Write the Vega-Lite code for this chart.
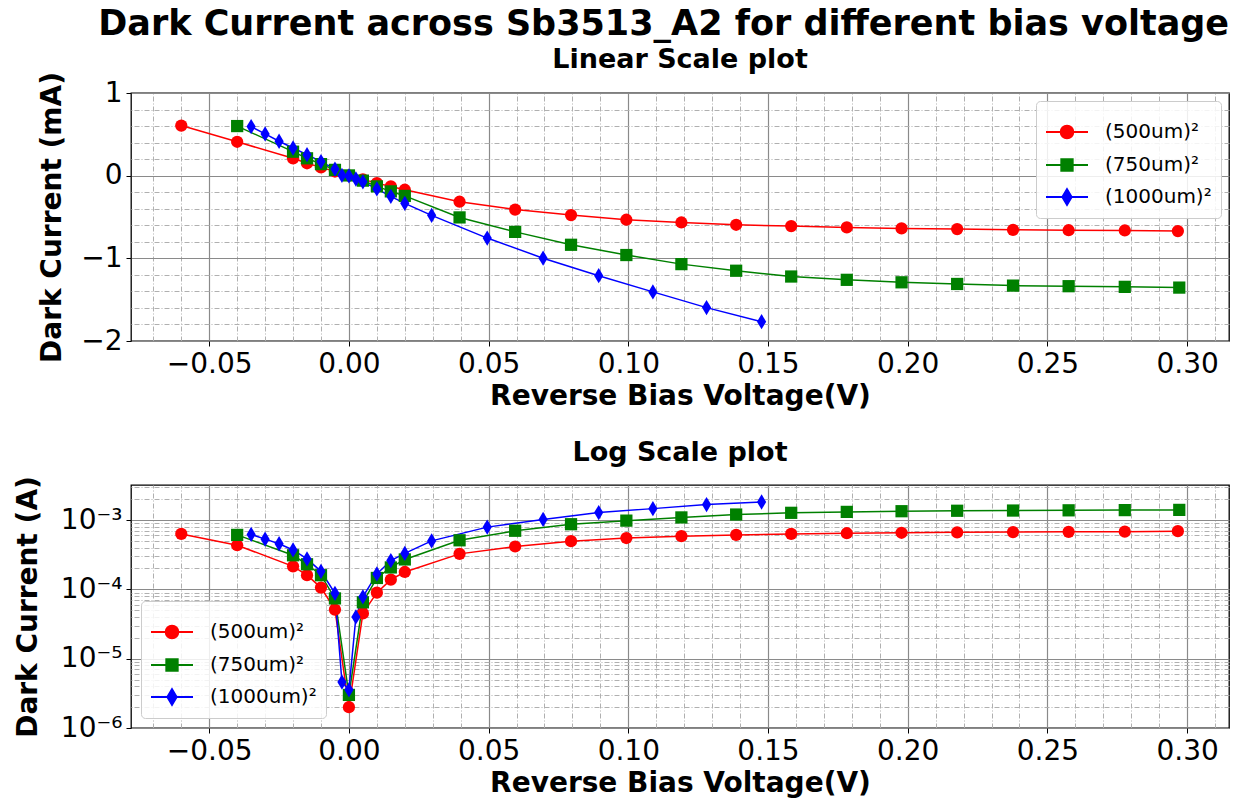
{
  "$schema": "https://vega.github.io/schema/vega-lite/v6.json",
  "padding": {"left": 13, "right": 14, "top": 6, "bottom": 2},
  "title": {"text": "Dark Current across Sb3513_A2 for different bias voltage", "fontSize": 35, "fontWeight": "bold", "font": "DejaVu Sans", "anchor": "middle", "color": "#000000", "offset": 3, "dx": 42},
  "config": {
    "font": "DejaVu Sans",
    "view": {"stroke": "#000000", "strokeWidth": 1.3},
    "axis": {"labelFontSize": 28, "labelColor": "#000000", "titleFontSize": 28, "titleFontWeight": "bold", "titleColor": "#000000", "tickColor": "#000000", "tickSize": 5, "labelPadding": 4, "domain": false, "gridColor": "#8a8a8a", "gridWidth": 1.2, "labelFont": "DejaVu Sans", "titleFont": "DejaVu Sans"},
    "title": {"fontSize": 27, "fontWeight": "bold", "color": "#000000", "font": "DejaVu Sans"},
    "legend": {"labelFontSize": 20, "labelFont": "DejaVu Sans", "labelColor": "#000000", "symbolSize": 1764, "symbolStrokeWidth": 2, "labelOffset": 16, "rowPadding": 0, "padding": 9, "fillColor": "rgba(255,255,255,0.85)", "strokeColor": "#cccccc", "cornerRadius": 4}
  },
  "spacing": 26,
  "resolve": {"scale": {"color": "independent", "shape": "independent", "stroke": "independent"}},
  "datasets": {
    "d": [
      {"s": "500", "v": -0.06, "mA": 0.606, "A": 6.3e-4},
      {"s": "500", "v": -0.04, "mA": 0.41, "A": 4.33e-4},
      {"s": "500", "v": -0.02, "mA": 0.21, "A": 2.15e-4},
      {"s": "500", "v": -0.015, "mA": 0.15, "A": 1.6e-4},
      {"s": "500", "v": -0.01, "mA": 0.10, "A": 1.06e-4},
      {"s": "500", "v": -0.005, "mA": 0.05, "A": 5.1e-5},
      {"s": "500", "v": 0.0, "mA": 0.002, "A": 2.0e-6},
      {"s": "500", "v": 0.005, "mA": -0.045, "A": 4.5e-5},
      {"s": "500", "v": 0.01, "mA": -0.09, "A": 8.95e-5},
      {"s": "500", "v": 0.015, "mA": -0.13, "A": 1.38e-4},
      {"s": "500", "v": 0.02, "mA": -0.17, "A": 1.78e-4},
      {"s": "500", "v": 0.0396, "mA": -0.315, "A": 3.25e-4},
      {"s": "500", "v": 0.0595, "mA": -0.41, "A": 4.15e-4},
      {"s": "500", "v": 0.0795, "mA": -0.477, "A": 4.95e-4},
      {"s": "500", "v": 0.0993, "mA": -0.533, "A": 5.5e-4},
      {"s": "500", "v": 0.119, "mA": -0.566, "A": 5.85e-4},
      {"s": "500", "v": 0.1386, "mA": -0.594, "A": 6.1e-4},
      {"s": "500", "v": 0.1583, "mA": -0.61, "A": 6.3e-4},
      {"s": "500", "v": 0.1782, "mA": -0.626, "A": 6.45e-4},
      {"s": "500", "v": 0.1978, "mA": -0.638, "A": 6.55e-4},
      {"s": "500", "v": 0.2177, "mA": -0.646, "A": 6.65e-4},
      {"s": "500", "v": 0.2377, "mA": -0.655, "A": 6.7e-4},
      {"s": "500", "v": 0.2576, "mA": -0.66, "A": 6.75e-4},
      {"s": "500", "v": 0.2777, "mA": -0.663, "A": 6.8e-4},
      {"s": "500", "v": 0.2967, "mA": -0.67, "A": 6.9e-4},
      {"s": "750", "v": -0.04, "mA": 0.60, "A": 6.1e-4},
      {"s": "750", "v": -0.02, "mA": 0.29, "A": 3.1e-4},
      {"s": "750", "v": -0.015, "mA": 0.21, "A": 2.3e-4},
      {"s": "750", "v": -0.01, "mA": 0.14, "A": 1.6e-4},
      {"s": "750", "v": -0.005, "mA": 0.07, "A": 7.4e-5},
      {"s": "750", "v": 0.0, "mA": 0.003, "A": 3.0e-6},
      {"s": "750", "v": 0.005, "mA": -0.06, "A": 6.5e-5},
      {"s": "750", "v": 0.01, "mA": -0.13, "A": 1.46e-4},
      {"s": "750", "v": 0.015, "mA": -0.19, "A": 2.07e-4},
      {"s": "750", "v": 0.02, "mA": -0.245, "A": 2.7e-4},
      {"s": "750", "v": 0.0396, "mA": -0.505, "A": 5.1e-4},
      {"s": "750", "v": 0.0595, "mA": -0.68, "A": 7.0e-4},
      {"s": "750", "v": 0.0795, "mA": -0.836, "A": 8.7e-4},
      {"s": "750", "v": 0.0993, "mA": -0.96, "A": 9.8e-4},
      {"s": "750", "v": 0.119, "mA": -1.07, "A": 1.09e-3},
      {"s": "750", "v": 0.1386, "mA": -1.15, "A": 1.2e-3},
      {"s": "750", "v": 0.1583, "mA": -1.22, "A": 1.27e-3},
      {"s": "750", "v": 0.1782, "mA": -1.26, "A": 1.31e-3},
      {"s": "750", "v": 0.1978, "mA": -1.29, "A": 1.34e-3},
      {"s": "750", "v": 0.2177, "mA": -1.31, "A": 1.36e-3},
      {"s": "750", "v": 0.2377, "mA": -1.33, "A": 1.37e-3},
      {"s": "750", "v": 0.2576, "mA": -1.337, "A": 1.38e-3},
      {"s": "750", "v": 0.2777, "mA": -1.345, "A": 1.39e-3},
      {"s": "750", "v": 0.2972, "mA": -1.354, "A": 1.4e-3},
      {"s": "1000", "v": -0.035, "mA": 0.594, "A": 6.2e-4},
      {"s": "1000", "v": -0.03, "mA": 0.505, "A": 5.3e-4},
      {"s": "1000", "v": -0.025, "mA": 0.416, "A": 4.55e-4},
      {"s": "1000", "v": -0.02, "mA": 0.335, "A": 3.7e-4},
      {"s": "1000", "v": -0.015, "mA": 0.254, "A": 2.75e-4},
      {"s": "1000", "v": -0.01, "mA": 0.17, "A": 1.82e-4},
      {"s": "1000", "v": -0.005, "mA": 0.08, "A": 8.75e-5},
      {"s": "1000", "v": -0.0025, "mA": 0.004, "A": 4.6e-6},
      {"s": "1000", "v": 0.0, "mA": -0.003, "A": 3.55e-6},
      {"s": "1000", "v": 0.0025, "mA": -0.04, "A": 4.0e-5},
      {"s": "1000", "v": 0.005, "mA": -0.075, "A": 7.8e-5},
      {"s": "1000", "v": 0.01, "mA": -0.16, "A": 1.67e-4},
      {"s": "1000", "v": 0.015, "mA": -0.25, "A": 2.6e-4},
      {"s": "1000", "v": 0.02, "mA": -0.335, "A": 3.3e-4},
      {"s": "1000", "v": 0.0296, "mA": -0.48, "A": 5.0e-4},
      {"s": "1000", "v": 0.0495, "mA": -0.755, "A": 7.9e-4},
      {"s": "1000", "v": 0.0695, "mA": -0.998, "A": 1.02e-3},
      {"s": "1000", "v": 0.0894, "mA": -1.21, "A": 1.28e-3},
      {"s": "1000", "v": 0.1088, "mA": -1.406, "A": 1.46e-3},
      {"s": "1000", "v": 0.128, "mA": -1.596, "A": 1.67e-3},
      {"s": "1000", "v": 0.1477, "mA": -1.766, "A": 1.82e-3}
    ]
  },
  "vconcat": [
    {
      "width": 1098,
      "height": 248,
      "title": {"text": "Linear Scale plot", "frame": "group", "anchor": "middle", "offset": -2},
      "data": {"name": "d"},
      "layer": [
        {
          "mark": {"type": "line", "strokeWidth": 1.5},
          "encoding": {
            "x": {"field": "v", "type": "quantitative", "scale": {"domain": [-0.078, 0.315], "nice": false, "zero": false},
              "axis": {"orient": "top", "values": [-0.07,-0.06,-0.04,-0.03,-0.02,-0.01,0.01,0.02,0.03,0.04,0.06,0.07,0.08,0.09,0.11,0.12,0.13,0.14,0.16,0.17,0.18,0.19,0.21,0.22,0.23,0.24,0.26,0.27,0.28,0.29,0.31], "grid": true, "gridDash": [5,2,1,2], "gridColor": "#b0b0b0", "gridWidth": 1, "labels": false, "ticks": false, "domain": false, "title": null}},
            "y": {"field": "mA", "type": "quantitative", "scale": {"domain": [-2, 1], "nice": false, "zero": false},
              "axis": {"orient": "right", "values": [-1.8,-1.6,-1.4,-1.2,-0.8,-0.6,-0.4,-0.2,0.2,0.4,0.6,0.8], "grid": true, "gridDash": [5,2,1,2], "gridColor": "#b0b0b0", "gridWidth": 1, "labels": false, "ticks": false, "domain": false, "title": null}},
            "stroke": {"field": "s", "type": "nominal", "scale": {"domain": ["1000","750","500"], "range": ["#0000ff","#008000","#ff0000"]}, "legend": null}
          }
        },
        {
          "mark": {"type": "point", "filled": true, "opacity": 1, "size": 150},
          "encoding": {
            "x": {"field": "v", "type": "quantitative",
              "axis": {"orient": "bottom", "values": [-0.05,0,0.05,0.1,0.15,0.2,0.25,0.3], "format": ".2f", "grid": true, "title": "Reverse Bias Voltage(V)", "titlePadding": 4}},
            "y": {"field": "mA", "type": "quantitative",
              "axis": {"orient": "left", "values": [-2,-1,0,1], "format": "d", "grid": true, "title": "Dark Current (mA)", "titlePadding": 14}},
            "color": {"field": "s", "type": "nominal", "scale": {"domain": ["500","750","1000"], "range": ["#ff0000","#008000","#0000ff"]},
              "legend": {"orient": "top-right", "offset": 8, "title": null, "labelExpr": "'(' + datum.label + 'um)²'",
                "symbolType": {"expr": "datum.value == '500' ? 'M-1,0L1,0M0.3,0A0.3,0.3,0,1,1,-0.3,0A0.3,0.3,0,1,1,0.3,0Z' : datum.value == '750' ? 'M-1,0L1,0M-0.27,-0.27L0.27,-0.27L0.27,0.27L-0.27,0.27Z' : 'M-1,0L1,0M0,-0.37L0.22,0L0,0.37L-0.22,0Z'"},
                "symbolStrokeColor": {"expr": "datum.value == '500' ? '#ff0000' : datum.value == '750' ? '#008000' : '#0000ff'"}}},
            "shape": {"field": "s", "type": "nominal", "scale": {"domain": ["1000","750","500"], "range": ["M0,-1.25L0.75,0L0,1.25L-0.75,0Z","square","circle"]}, "legend": null}
          }
        }
      ]
    },
    {
      "width": 1098,
      "height": 243,
      "title": {"text": "Log Scale plot", "frame": "group", "anchor": "middle", "offset": 9},
      "data": {"name": "d"},
      "layer": [
        {
          "mark": {"type": "line", "strokeWidth": 1.5},
          "encoding": {
            "x": {"field": "v", "type": "quantitative", "scale": {"domain": [-0.078, 0.315], "nice": false, "zero": false},
              "axis": {"orient": "top", "values": [-0.07,-0.06,-0.04,-0.03,-0.02,-0.01,0.01,0.02,0.03,0.04,0.06,0.07,0.08,0.09,0.11,0.12,0.13,0.14,0.16,0.17,0.18,0.19,0.21,0.22,0.23,0.24,0.26,0.27,0.28,0.29,0.31], "grid": true, "gridDash": [5,2,1,2], "gridColor": "#b0b0b0", "gridWidth": 1, "labels": false, "ticks": false, "domain": false, "title": null}},
            "y": {"field": "A", "type": "quantitative", "scale": {"type": "log", "domain": [1e-6, 3.2e-3], "nice": false},
              "axis": {"orient": "right", "values": [2e-6,3e-6,4e-6,5e-6,6e-6,7e-6,8e-6,9e-6,2e-5,3e-5,4e-5,5e-5,6e-5,7e-5,8e-5,9e-5,2e-4,3e-4,4e-4,5e-4,6e-4,7e-4,8e-4,9e-4,2e-3,3e-3], "grid": true, "gridDash": [5,2,1,2], "gridColor": "#b0b0b0", "gridWidth": 1, "labels": false, "ticks": false, "domain": false, "title": null}},
            "stroke": {"field": "s", "type": "nominal", "scale": {"domain": ["1000","750","500"], "range": ["#0000ff","#008000","#ff0000"]}, "legend": null}
          }
        },
        {
          "mark": {"type": "point", "filled": true, "opacity": 1, "size": 150},
          "encoding": {
            "x": {"field": "v", "type": "quantitative",
              "axis": {"orient": "bottom", "values": [-0.05,0,0.05,0.1,0.15,0.2,0.25,0.3], "format": ".2f", "grid": true, "title": "Reverse Bias Voltage(V)", "titlePadding": 4}},
            "y": {"field": "A", "type": "quantitative",
              "axis": {"orient": "left", "values": [1e-6,1e-5,1e-4,1e-3], "labelExpr": "datum.value < 5e-6 ? '10⁻⁶' : datum.value < 5e-5 ? '10⁻⁵' : datum.value < 5e-4 ? '10⁻⁴' : '10⁻³'", "grid": true, "title": "Dark Current (A)", "titlePadding": 18}},
            "color": {"field": "s", "type": "nominal", "scale": {"domain": ["500","750","1000"], "range": ["#ff0000","#008000","#0000ff"]},
              "legend": {"orient": "bottom-left", "offset": 10, "title": null, "labelExpr": "datum.label == '500' ? '\u00a0\u00a0(500um)²' : '(' + datum.label + 'um)²'",
                "symbolType": {"expr": "datum.value == '500' ? 'M-1,0L1,0M0.3,0A0.3,0.3,0,1,1,-0.3,0A0.3,0.3,0,1,1,0.3,0Z' : datum.value == '750' ? 'M-1,0L1,0M-0.27,-0.27L0.27,-0.27L0.27,0.27L-0.27,0.27Z' : 'M-1,0L1,0M0,-0.37L0.22,0L0,0.37L-0.22,0Z'"},
                "symbolStrokeColor": {"expr": "datum.value == '500' ? '#ff0000' : datum.value == '750' ? '#008000' : '#0000ff'"}}},
            "shape": {"field": "s", "type": "nominal", "scale": {"domain": ["1000","750","500"], "range": ["M0,-1.25L0.75,0L0,1.25L-0.75,0Z","square","circle"]}, "legend": null}
          }
        }
      ]
    }
  ]
}
